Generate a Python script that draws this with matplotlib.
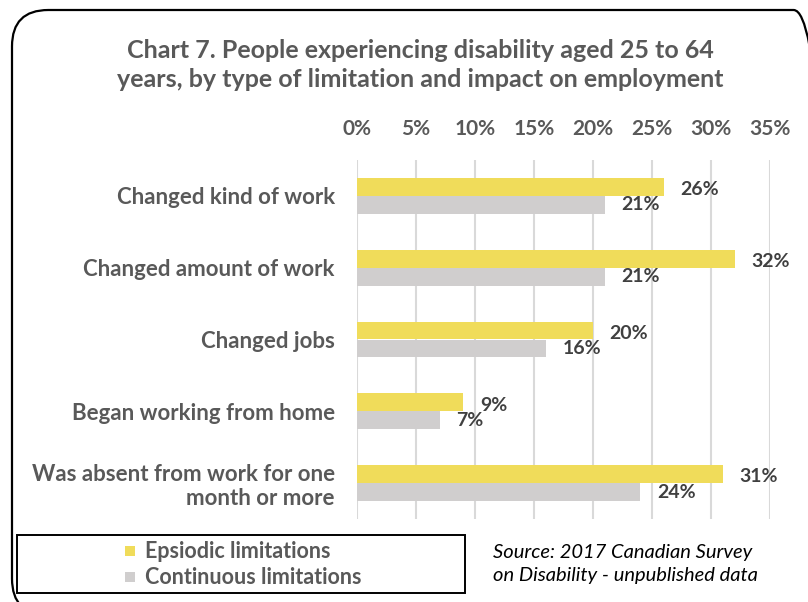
import matplotlib
matplotlib.use("Agg")
import matplotlib.pyplot as plt
from matplotlib.patches import FancyBboxPatch, Rectangle

plt.rcParams['font.family'] = ['Lato', 'DejaVu Sans']

categories = ["Changed kind of work", "Changed amount of work", "Changed jobs",
              "Began working from home", "Was absent from work for one\nmonth or more"]
episodic = [26, 32, 20, 9, 31]
continuous = [21, 21, 16, 7, 24]
series_names = ["Epsiodic limitations", "Continuous limitations"]
ticks = [0, 5, 10, 15, 20, 25, 30, 35]

YELLOW = "#F0DC5A"
GRAY = "#D0CECE"
TXT = "#595959"
VAL = "#404040"

W, H = 808, 602
fig = plt.figure(figsize=(W / 100, H / 100), dpi=100)

def fx(x):
    return x / W

def fy(y):
    return 1 - y / H

# rounded outer frame
frame = FancyBboxPatch((fx(12), fy(615)), fx(830 - 12), (615 - 10) / H,
                       boxstyle="round,pad=0,rounding_size=0.045",
                       transform=fig.transFigure, fill=False, ec="black", lw=1.6,
                       mutation_aspect=W / H)
fig.add_artist(frame)

fig.text(fx(420), fy(65), "Chart 7. People experiencing disability aged 25 to 64\n"
         "years, by type of limitation and impact on employment",
         ha="center", va="center", fontsize=18, fontweight="bold", color=TXT,
         linespacing=1.35)

ax = fig.add_axes([fx(357), fy(519), fx(770 - 357), (519 - 160) / H])
y = list(range(len(categories)))
h = 0.25
ax.barh([i - h / 2 for i in y], episodic, height=h, color=YELLOW)
ax.barh([i + h / 2 for i in y], continuous, height=h, color=GRAY)

for i in y:
    ax.annotate(f"{episodic[i]}%", (episodic[i], i - h / 2), xytext=(12, -2),
                textcoords="offset points", ha="left", va="center",
                fontsize=14, fontweight="bold", color=VAL)
    ax.annotate(f"{continuous[i]}%", (continuous[i], i + h / 2), xytext=(12, 0),
                textcoords="offset points", ha="left", va="center",
                fontsize=14, fontweight="bold", color=VAL)

ax.set_xlim(0, 35)
ax.set_ylim(4.5, -0.5)
ax.set_xticks(ticks)
ax.set_xticklabels([f"{t}%" for t in ticks])
ax.xaxis.tick_top()
ax.tick_params(axis="x", length=0, pad=15, labelsize=15, labelcolor=TXT)
for lab in ax.get_xticklabels():
    lab.set_fontweight("bold")
ax.set_yticks(y)
ax.set_yticklabels(categories)
ax.tick_params(axis="y", length=0, pad=16, labelsize=16, labelcolor=TXT)
for lab in ax.get_yticklabels():
    lab.set_fontweight("bold")
    lab.set_horizontalalignment("right")
    lab.set_linespacing(1.15)
ax.grid(axis="x", color="#D9D9D9", lw=1.5)
ax.set_axisbelow(True)
for s in ax.spines.values():
    s.set_visible(False)

# legend box
fig.add_artist(Rectangle((fx(17), fy(593)), fx(465 - 17), (593 - 535) / H,
                         transform=fig.transFigure, fill=False, ec="black", lw=1.4))
for k, (name, col) in enumerate(zip(series_names, [YELLOW, GRAY])):
    yc = 551 + 26 * k
    fig.add_artist(Rectangle((fx(125), fy(yc + 5)), fx(10), 10 / H,
                             transform=fig.transFigure, color=col, lw=0))
    fig.text(fx(145), fy(yc), name, ha="left", va="center", fontsize=15.5,
             fontweight="bold", color=TXT)

fig.text(fx(493), fy(564), "Source: 2017 Canadian Survey\non Disability - unpublished data",
         ha="left", va="center", fontsize=14.5, style="italic", color="black",
         linespacing=1.4)

fig.savefig("out.png", dpi=100)
